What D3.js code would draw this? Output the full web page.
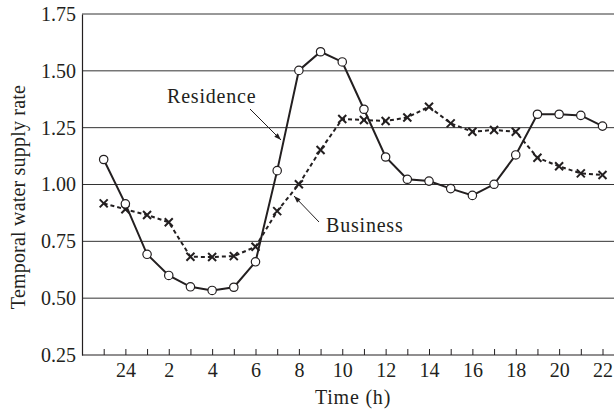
<!DOCTYPE html>
<html>
<head>
<meta charset="utf-8">
<script src="https://cdn.jsdelivr.net/npm/d3@7"></script>
<style>
  html, body { margin: 0; padding: 0; background: #fff; }
  svg { display: block; }
  text { font-family: "Liberation Serif", "Times New Roman", serif; fill: #231f20; }
</style>
</head>
<body>
<svg id="chart" width="614" height="412"></svg>
<script>
// Hour of day for each sample (starting at 23:00 of the previous day)
const hours = [23, 24, 1, 2, 3, 4, 5, 6, 7, 8, 9, 10, 11, 12, 13, 14, 15, 16, 17, 18, 19, 20, 21, 22];
// Temporal water supply rate, residential area
const residence = [1.11, 0.915, 0.693, 0.600, 0.550, 0.534, 0.548, 0.660, 1.061, 1.502, 1.584, 1.539,
                   1.331, 1.121, 1.023, 1.015, 0.982, 0.952, 1.001, 1.130, 1.309, 1.309, 1.304, 1.257];
// Temporal water supply rate, business area
const business = [0.917, 0.891, 0.866, 0.834, 0.682, 0.681, 0.685, 0.726, 0.883, 1.001, 1.152, 1.288,
                  1.284, 1.279, 1.295, 1.342, 1.269, 1.232, 1.240, 1.232, 1.118, 1.080, 1.049, 1.042];
// Value axis ticks
const yTicks = [0.25, 0.50, 0.75, 1.00, 1.25, 1.50, 1.75];
// Hours that get a label on the time axis
const labelledHours = [24, 2, 4, 6, 8, 10, 12, 14, 16, 18, 20, 22];

const svg = d3.select("#chart");
const plot = { left: 82, right: 614, top: 14, bottom: 355 };
const ink = "#231f20";

const x = d3.scaleLinear().domain([-1, hours.length - 0.47]).range([plot.left, plot.right]);
const y = d3.scaleLinear().domain([0.25, 1.75]).range([plot.bottom, plot.top]);

// Horizontal grid lines
svg.append("g")
  .selectAll("line")
  .data(yTicks.slice(1))
  .join("line")
  .attr("x1", plot.left).attr("x2", plot.right)
  .attr("y1", d => y(d)).attr("y2", d => y(d))
  .attr("stroke", "#333").attr("stroke-width", 1);

// Value axis (line only, labels drawn to the left)
const yAxis = svg.append("g")
  .attr("transform", `translate(${plot.left},0)`)
  .call(d3.axisLeft(y).tickValues(yTicks).tickFormat(d3.format(".2f")).tickSize(0).tickPadding(6));
yAxis.select(".domain").attr("stroke", ink).attr("stroke-width", 1.2);
yAxis.selectAll("text").attr("font-size", 20).attr("font-family", "Liberation Serif").attr("fill", ink);

// Time axis with inward ticks at every hour
const xAxis = svg.append("g")
  .attr("transform", `translate(0,${plot.bottom})`)
  .call(d3.axisBottom(x)
    .tickValues(d3.range(hours.length))
    .tickSize(-6)
    .tickPadding(8)
    .tickFormat(i => labelledHours.includes(hours[i]) ? String(hours[i]) : ""));
xAxis.select(".domain").attr("d", `M${plot.left},0H${plot.right}`).attr("stroke", ink).attr("stroke-width", 1.2);
xAxis.selectAll(".tick line").attr("stroke", ink).attr("stroke-width", 1);
xAxis.selectAll("text").attr("font-size", 20).attr("font-family", "Liberation Serif").attr("fill", ink);

// Axis titles
svg.append("text")
  .attr("x", 353).attr("y", 404)
  .attr("text-anchor", "middle").attr("font-size", 20).attr("letter-spacing", 0.8)
  .text("Time (h)");
svg.append("text")
  .attr("transform", "translate(25,197) rotate(-90)")
  .attr("text-anchor", "middle").attr("font-size", 20).attr("letter-spacing", 0.2)
  .text("Temporal water supply rate");

const line = d3.line().x((d, i) => x(i)).y(d => y(d));

// Business: dashed line with cross markers
svg.append("path")
  .datum(business)
  .attr("d", line)
  .attr("fill", "none").attr("stroke", ink)
  .attr("stroke-width", 2).attr("stroke-dasharray", "4,3");

// Residence: solid line with open circles
svg.append("path")
  .datum(residence)
  .attr("d", line)
  .attr("fill", "none").attr("stroke", ink).attr("stroke-width", 2);

svg.append("g")
  .selectAll("path")
  .data(business)
  .join("path")
  .attr("d", (d, i) => {
    const cx = x(i), cy = y(d), s = 4;
    return `M${cx - s},${cy - s}L${cx + s},${cy + s}M${cx - s},${cy + s}L${cx + s},${cy - s}`;
  })
  .attr("stroke", ink).attr("stroke-width", 2).attr("fill", "none");

svg.append("g")
  .selectAll("circle")
  .data(residence)
  .join("circle")
  .attr("cx", (d, i) => x(i)).attr("cy", d => y(d))
  .attr("r", 4.2)
  .attr("fill", "#fff").attr("stroke", ink).attr("stroke-width", 1.2);

// Series callouts with arrows
const defs = svg.append("defs");
defs.append("marker")
  .attr("id", "arrowhead")
  .attr("viewBox", "0 0 10 10")
  .attr("refX", 10).attr("refY", 5)
  .attr("markerWidth", 9).attr("markerHeight", 7)
  .attr("markerUnits", "userSpaceOnUse")
  .attr("orient", "auto")
  .append("path")
  .attr("d", "M0,1.5L10,5L0,8.5Z")
  .attr("fill", ink);

svg.append("line")
  .attr("x1", 250).attr("y1", 109).attr("x2", 281).attr("y2", 140)
  .attr("stroke", ink).attr("stroke-width", 1)
  .attr("marker-end", "url(#arrowhead)");
svg.append("text")
  .attr("x", 167).attr("y", 103).attr("font-size", 20).attr("letter-spacing", 0.8)
  .text("Residence");

svg.append("line")
  .attr("x1", 319).attr("y1", 222).attr("x2", 294).attr("y2", 196)
  .attr("stroke", ink).attr("stroke-width", 1)
  .attr("marker-end", "url(#arrowhead)");
svg.append("text")
  .attr("x", 326).attr("y", 232).attr("font-size", 20).attr("letter-spacing", 0.8)
  .text("Business");
</script>
</body>
</html>
